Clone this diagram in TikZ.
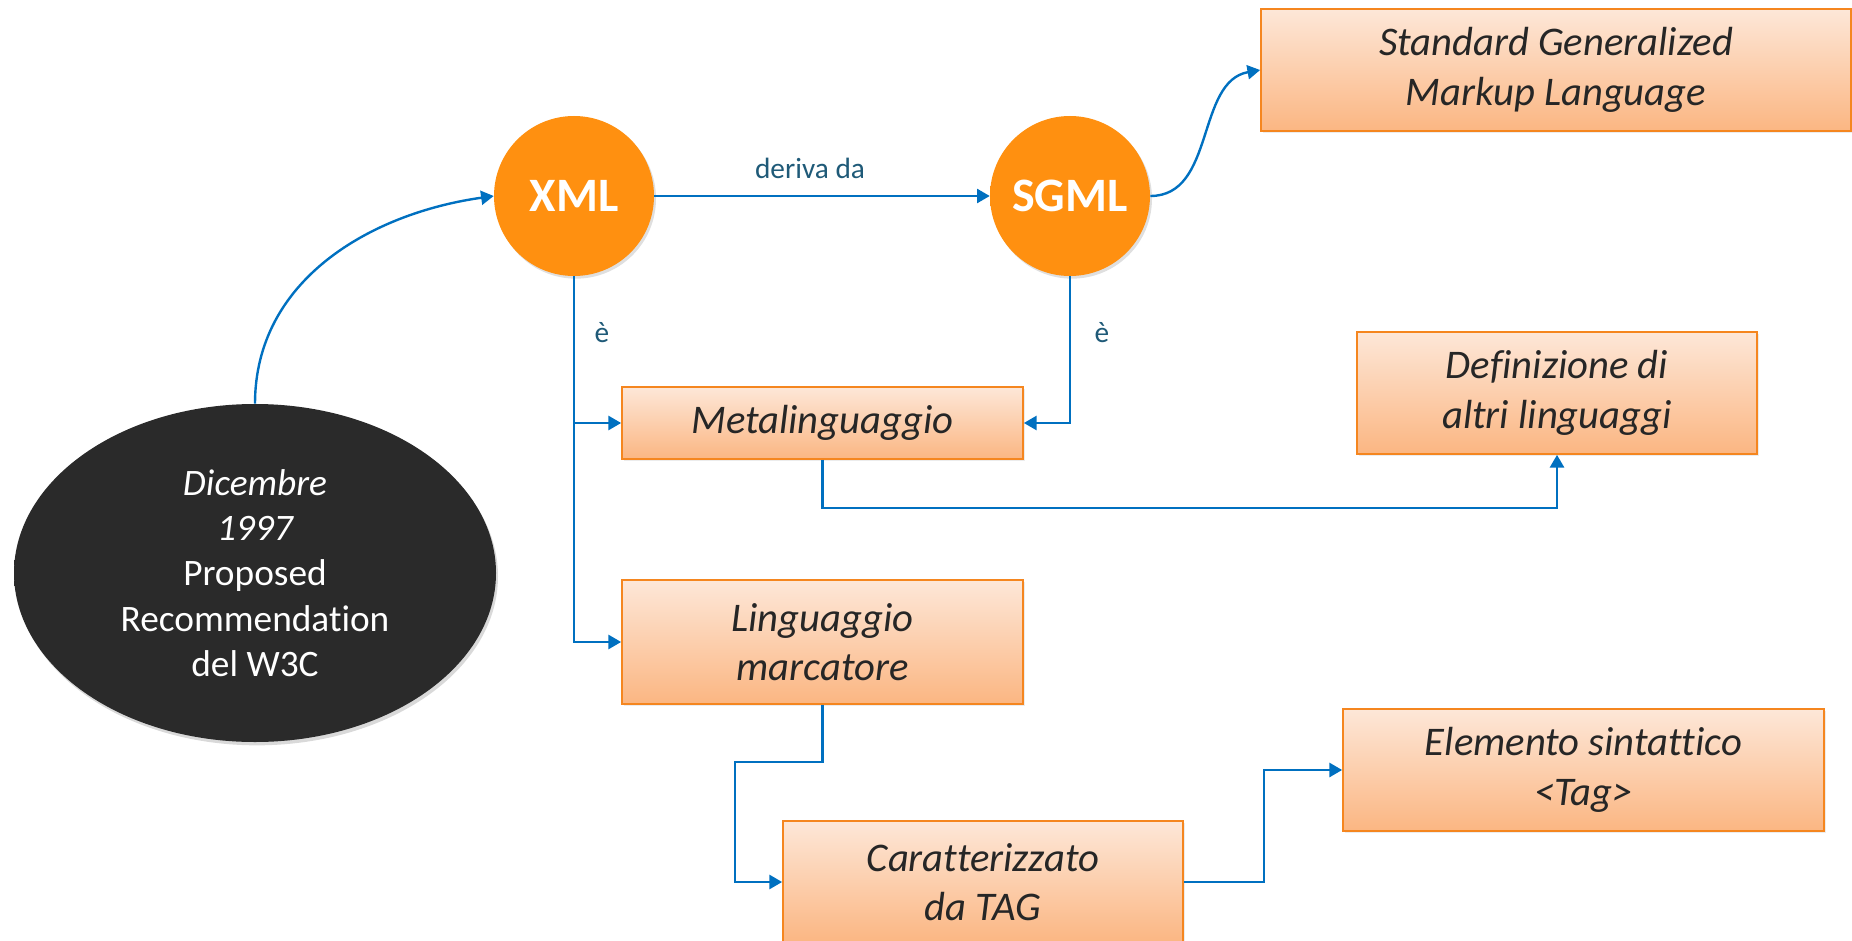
\documentclass[tikz,border=0pt]{standalone}
\usepackage{fontspec}
\setmainfont{Carlito}[Ligatures=NoCommon]
\usetikzlibrary{arrows.meta,shapes.geometric,shadows}
\definecolor{cblue}{HTML}{0070C0}
\definecolor{lbl}{HTML}{1F5A78}
\definecolor{boxtop}{HTML}{FDE7D8}
\definecolor{boxbot}{HTML}{FBB682}
\definecolor{boxline}{HTML}{F5861F}
\definecolor{txt}{HTML}{262626}
\definecolor{orbin}{HTML}{FF9010}
\definecolor{orbout}{HTML}{CF6400}
\definecolor{darkin}{HTML}{2A2A2A}
\definecolor{darkout}{HTML}{1C1C1C}
\pgfdeclareradialshading{orbshade}{\pgfpoint{0bp}{10bp}}{color(0bp)=(orbin); color(32bp)=(orbin); color(52bp)=(orbout)}
\pgfdeclareradialshading{darkshade}{\pgfpoint{0bp}{4bp}}{color(0bp)=(darkin); color(38bp)=(darkin); color(50bp)=(darkout)}
\begin{document}
\begin{tikzpicture}[x=0.75pt,y=-0.75pt,
  box/.style={draw=boxline,line width=1.3pt,top color=boxtop,bottom color=boxbot,
    font=\fontsize{30.5}{37}\selectfont\itshape,text=txt,align=center,inner sep=0pt,
    drop shadow={opacity=0.15,shadow xshift=1.5pt,shadow yshift=-1.5pt}},
  orb/.style={circle,minimum size=120pt,shading=orbshade,
    font=\fontsize{36}{40}\selectfont\bfseries,text=white,inner sep=0pt,
    drop shadow={opacity=0.25,shadow xshift=1.5pt,shadow yshift=-2pt}},
  darkorb/.style={ellipse,minimum width=361.5pt,minimum height=253.5pt,shading=darkshade,
    font=\fontsize{28}{34}\selectfont,text=white,align=center,inner sep=0pt,
    drop shadow={opacity=0.3,shadow xshift=1.5pt,shadow yshift=-2.5pt}},
  arr/.style={draw=cblue,line width=1.8pt,-{Triangle[width=10.5pt,length=9.5pt]}},
  lab/.style={text=lbl,font=\fontsize{22}{26}\selectfont,inner sep=0pt}]
\useasboundingbox (0,0) rectangle (1852,941);

% nodes
\node[orb] (xml) at (574,196) {XML};
\node[orb] (sgml) at (1070,196) {SGML};
\node[darkorb] (date) at (255,573) {{\itshape Dicembre}\\{\itshape 1997}\\Proposed\\Recommendation\\del W3C};

\node[box,minimum width=442.5pt,minimum height=91.5pt] (sgbox) at (1556,70) {Standard Generalized\\Markup Language};
\node[box,minimum width=300.75pt,minimum height=54pt] (meta) at (822.5,423) {Metalinguaggio};
\node[box,minimum width=300pt,minimum height=91.5pt] (def) at (1557,393) {Definizione di\\altri linguaggi};
\node[box,minimum width=300.75pt,minimum height=93pt] (ling) at (822.5,642) {Linguaggio\\marcatore};
\node[box,minimum width=300pt,minimum height=91.5pt] (car) at (983,882) {Caratterizzato\\da TAG};
\node[box,minimum width=360.75pt,minimum height=91.5pt] (elem) at (1583.5,770) {Elemento sintattico\\<Tag>};

% labels
\node[lab] (lderiva) at (810,168) {deriva da};
\node[lab] (le1) at (602,333) {è};
\node[lab] (le2) at (1102,333) {è};

% helper coordinates
\coordinate (m1) at (822.5,508);
\coordinate (l1) at (735,762);
\coordinate (c1) at (1264,770);

% connectors
\draw[arr] (xml) -- (sgml);
\draw[arr] (xml.south) |- (meta.west);
\draw[arr] (xml.south) |- (ling.west);
\draw[arr] (sgml.south) |- (meta.east);
\draw[arr] (meta.south) -- (m1) -| (def.south);
\draw[arr] (ling.south) |- (l1) |- (car.west);
\draw[arr] (car.east) -| (c1) |- (elem.west);
\draw[arr] (sgml.east) to[out=0,in=190] (sgbox.west);
\draw[arr] (date.north) to[out=90,in=188] (xml.west);
\end{tikzpicture}
\end{document}
